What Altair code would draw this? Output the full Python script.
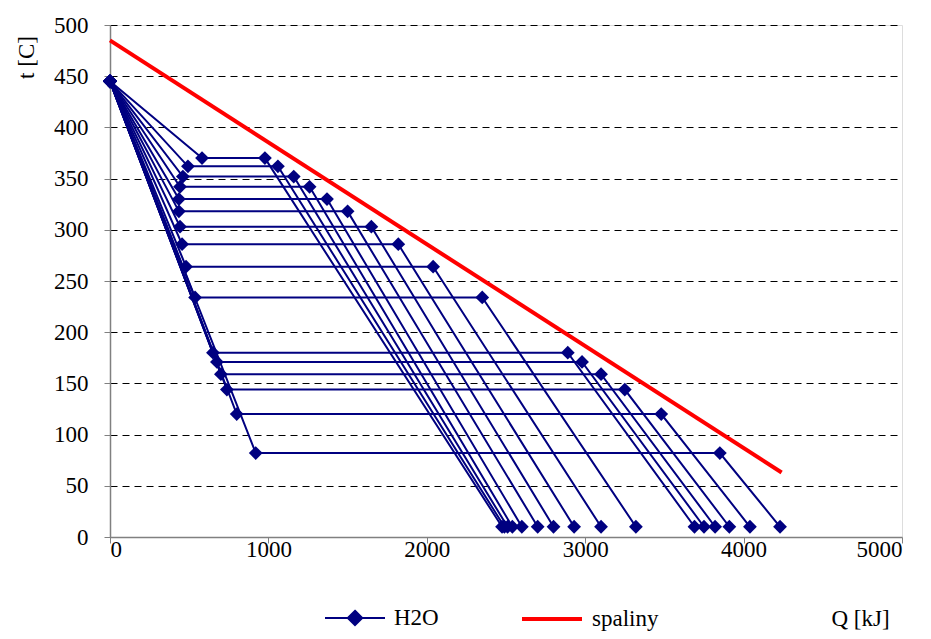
import altair as alt
import pandas as pd

# H2O series: start point, left knee, right knee, end point
t_start = 445
t_end = 10
temps = [370, 362, 352, 342, 330, 318, 303, 286, 264, 234, 180, 171, 159, 144, 120, 82]
q_left = [581, 492, 460, 442, 435, 435, 442, 455, 480, 537, 650, 675, 700, 738, 800, 920]
q_right = [978, 1060, 1160, 1260, 1370, 1500, 1650, 1820, 2040, 2350, 2890, 2980, 3100, 3250, 3480, 3850]
q_final = [2475, 2490, 2510, 2540, 2600, 2700, 2800, 2930, 3100, 3320, 3690, 3750, 3820, 3910, 4040, 4230]

# spaliny (flue gas)
gas_q = [0, 4240]
gas_t = [485, 63]

x_ticks = [0, 1000, 2000, 3000, 4000, 5000]
y_ticks = [0, 50, 100, 150, 200, 250, 300, 350, 400, 450, 500]

rows = []
for i, (t, a, b, c) in enumerate(zip(temps, q_left, q_right, q_final)):
    pts = [(0, t_start), (a, t), (b, t), (c, t_end)]
    for k, (q, tt) in enumerate(pts):
        rows.append({"series": i, "order": k, "q": q, "t": tt, "name": "H2O"})
h2o = pd.DataFrame(rows)
gas = pd.DataFrame({"q": gas_q, "t": gas_t, "name": ["spaliny"] * len(gas_q)})

FONT = "Liberation Serif"
FS = 23
NAVY = "#000080"

x_enc = alt.X(
    "q:Q",
    scale=alt.Scale(domain=[0, 5000], nice=False, zero=True),
    axis=alt.Axis(
        values=x_ticks, grid=False, title="Q [kJ]", format="d",
        titleX=750, titleY=81, titleAlign="center", titleBaseline="middle",
        titleFont=FONT, titleFontSize=FS, titleFontWeight="normal", titleColor="black",
        labelFont=FONT, labelFontSize=FS, labelColor="black", labelPadding=-5,
        domainColor="#808080", domainWidth=1.5, tickColor="#808080", tickSize=6,
    ),
)
y_enc = alt.Y(
    "t:Q",
    scale=alt.Scale(domain=[0, 500], nice=False),
    axis=alt.Axis(
        values=y_ticks, grid=True, gridColor="black", gridDash=[7, 5], gridWidth=1,
        title="t [C]", titleX=-84, titleY=32, titleAngle=-90, titleAlign="center",
        titleBaseline="middle",
        titleFont=FONT, titleFontSize=FS, titleFontWeight="normal", titleColor="black",
        labelFont=FONT, labelFontSize=FS, labelColor="black", labelPadding=16,
        domainColor="#808080", domainWidth=1.5, tickColor="#808080", tickSize=6,
    ),
)

h2o_layer = alt.Chart(h2o).mark_line(
    strokeWidth=2,
    point=alt.OverlayMarkDef(shape="diamond", filled=True, size=190, color=NAVY),
).encode(
    x=x_enc,
    y=y_enc,
    detail="series:N",
    order="order:Q",
    color=alt.Color(
        "name:N",
        scale=alt.Scale(domain=["H2O"], range=[NAVY]),
        legend=alt.Legend(
            title=None, orient="none", legendX=214, legendY=562,
            symbolType="M-1,0H1M0,-0.24L0.24,0L0,0.24L-0.24,0Z",
            symbolSize=3600, symbolStrokeWidth=2, symbolFillColor=NAVY,
            symbolStrokeColor=NAVY,
            labelFont=FONT, labelFontSize=FS, labelColor="black", labelOffset=8,
        ),
    ),
)

gas_layer = alt.Chart(gas).mark_line(strokeWidth=4).encode(
    x=x_enc,
    y=y_enc,
    color=alt.Color(
        "name:N",
        scale=alt.Scale(domain=["spaliny"], range=["#FF0000"]),
        legend=alt.Legend(
            title=None, orient="none", legendX=410, legendY=562,
            symbolType="stroke", symbolSize=3600, symbolStrokeWidth=4,
            labelFont=FONT, labelFontSize=FS, labelColor="black", labelOffset=8,
        ),
    ),
)

chart = (
    alt.layer(gas_layer, h2o_layer)
    .resolve_scale(color="independent")
    .properties(
        width=792,
        height=512,
        autosize=alt.AutoSizeParams(type="none"),
        padding={"left": 102, "top": 17, "right": 21, "bottom": 94},
    )
    .configure_view(stroke=None)
    .configure(background="white")
)

chart.save("out.html", embed_options={"renderer": "svg", "actions": False})
